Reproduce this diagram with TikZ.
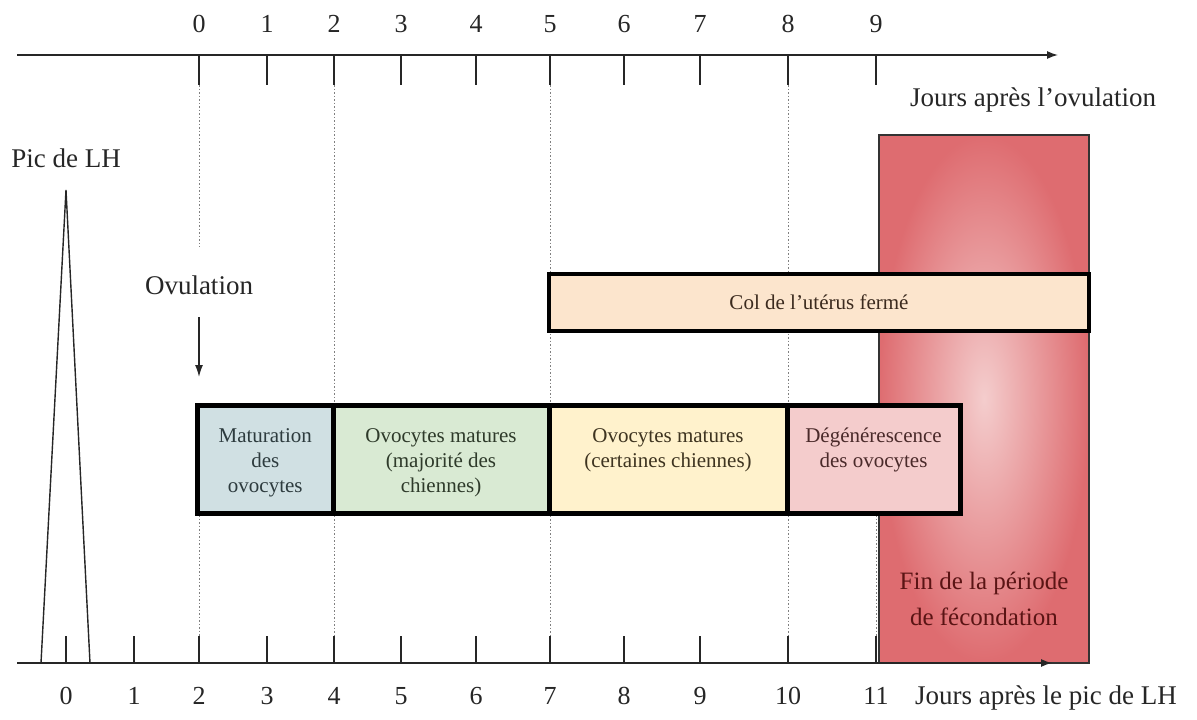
\documentclass[tikz,border=0pt]{standalone}
\usepackage{fontspec}
\setmainfont{Liberation Serif}
\usetikzlibrary{arrows.meta}
\definecolor{cBlue}{HTML}{D0E0E3}
\definecolor{cGreen}{HTML}{D9EAD3}
\definecolor{cYellow}{HTML}{FFF2CC}
\definecolor{cPink}{HTML}{F4CCCC}
\definecolor{cPeach}{HTML}{FCE5CD}
\definecolor{cRedOut}{HTML}{DE6C70}
\definecolor{cRedIn}{HTML}{F4CDCD}
\definecolor{tBlue}{HTML}{2D3B3E}
\definecolor{tGreen}{HTML}{2E3A2A}
\definecolor{tYellow}{HTML}{3E3420}
\definecolor{tPink}{HTML}{4A2A2A}
\definecolor{tPeach}{HTML}{3B2A1E}
\definecolor{tRed}{HTML}{5A1414}
\begin{document}
\begin{tikzpicture}[x=1pt,y=-1pt,
  axisline/.style={line width=1.4, draw=black!85},
  tickline/.style={line width=1.4, draw=black!85},
  guide/.style={draw=black!50, line width=1, dash pattern=on 1.5pt off 2pt},
  digit/.style={font=\fontsize{26}{30}\selectfont, text=black!85, inner sep=0, anchor=base},
  lbl/.style={font=\fontsize{27}{32}\selectfont, text=black!85, inner sep=0},
  stagebox/.style={draw=black, line width=5, rectangle, minimum height=108, inner sep=0},
  boxtxt/.style={font=\fontsize{21}{25}\selectfont, align=center, inner sep=0, anchor=north},
  tip/.style={-{Latex[length=11,width=8]}}
]
\useasboundingbox (0,0) rectangle (1197,720);

% fertilisation end period
\node[rectangle, draw=black!80, line width=1.2, inner color=cRedIn, outer color=cRedOut,
      minimum width=210, minimum height=528, inner sep=0] (fin) at (984,399) {};
\node[font=\fontsize{25}{36}\selectfont, align=center, text=tRed, inner sep=0] (fintxt) at (984,599)
  {Fin de la période\\de fécondation};

% guides
\coordinate (g2a) at (199,85);  \coordinate (g2b) at (199,247);
\coordinate (g2c) at (199,515); \coordinate (g2d) at (199,636);
\coordinate (g4a) at (334,85);  \coordinate (g4b) at (334,636);
\coordinate (g7a) at (550,85);  \coordinate (g7b) at (550,636);
\coordinate (g10a) at (788,85); \coordinate (g10b) at (788,636);
\coordinate (g11a) at (876,515); \coordinate (g11b) at (876,636);
\draw[guide] (g2a) -- (g2b);
\draw[guide] (g2c) -- (g2d);
\draw[guide] (g4a) -- (g4b);
\draw[guide] (g7a) -- (g7b);
\draw[guide] (g10a) -- (g10b);
\draw[guide] (g11a) -- (g11b);

% top axis
\coordinate (topL) at (17,55);
\coordinate (topR) at (1058,55);
\draw[axisline, tip] (topL) -- (topR);
\foreach \x [count=\i from 0] in {199,267,334,401,476,550,624,700,788,876} {
  \coordinate (tt\i) at (\x,55);
  \coordinate (tb\i) at (\x,85);
  \draw[tickline] (tt\i) -- (tb\i);
  \node[digit] (tl\i) at (\x,32) {\i};
}
\node[lbl, anchor=base west] (toplbl) at (910,106) {Jours après l’ovulation};

% bottom axis
\coordinate (botL) at (17,663);
\coordinate (botR) at (1052,663);
\foreach \x [count=\i from 0] in {66,134,199,267,334,401,476,550,624,700,788,876} {
  \coordinate (bb\i) at (\x,663);
  \coordinate (bt\i) at (\x,636);
  \draw[tickline] (bb\i) -- (bt\i);
  \node[digit] (bl\i) at (\x,704) {\i};
}
\draw[axisline, tip] (botL) -- (botR);
\node[lbl, anchor=base west] (botlbl) at (915,704) {Jours après le pic de LH};

% LH peak
\coordinate (pk) at (66,190);
\coordinate (pkL) at (41,663);
\coordinate (pkR) at (90,663);
\draw[line width=1.4, draw=black!85] (pkL) -- (pk) -- (pkR);
\node[lbl, anchor=base] (pic) at (66,167) {Pic de LH};

% ovulation
\node[lbl, anchor=base] (ovul) at (199,294) {Ovulation};
\coordinate (ovA) at (199,317);
\coordinate (ovB) at (199,377);
\draw[line width=1.4, draw=black!85, -{Latex[length=12,width=8]}] (ovA) -- (ovB);

% cervix closed
\node[rectangle, draw=black, line width=4.5, fill=cPeach, minimum width=540, minimum height=57, inner sep=0] (col) at (819,302.5) {};
\node[font=\fontsize{21}{25}\selectfont, text=tPeach, inner sep=0] (coltxt) at (819,302.5) {Col de l’utérus fermé};

% stages
\node[stagebox, fill=cBlue, minimum width=135.5] (mat) at (265.25,459.5) {};
\node[stagebox, fill=cGreen, minimum width=216] (maj) at (441,459.5) {};
\node[stagebox, fill=cYellow, minimum width=238] (cer) at (668,459.5) {};
\node[stagebox, fill=cPink, minimum width=173] (deg) at (873.5,459.5) {};
\node[boxtxt, text=tBlue] (mattxt) at (265.25,428) {Maturation\\des\\ovocytes};
\node[boxtxt, text=tGreen] (majtxt) at (441,428) {Ovocytes matures\\(majorité des\\chiennes)};
\node[boxtxt, text=tYellow] (certxt) at (668,428) {Ovocytes matures\\(certaines chiennes)};
\node[boxtxt, text=tPink] (degtxt) at (873.5,428) {Dégénérescence\\des ovocytes};
\end{tikzpicture}
\end{document}
